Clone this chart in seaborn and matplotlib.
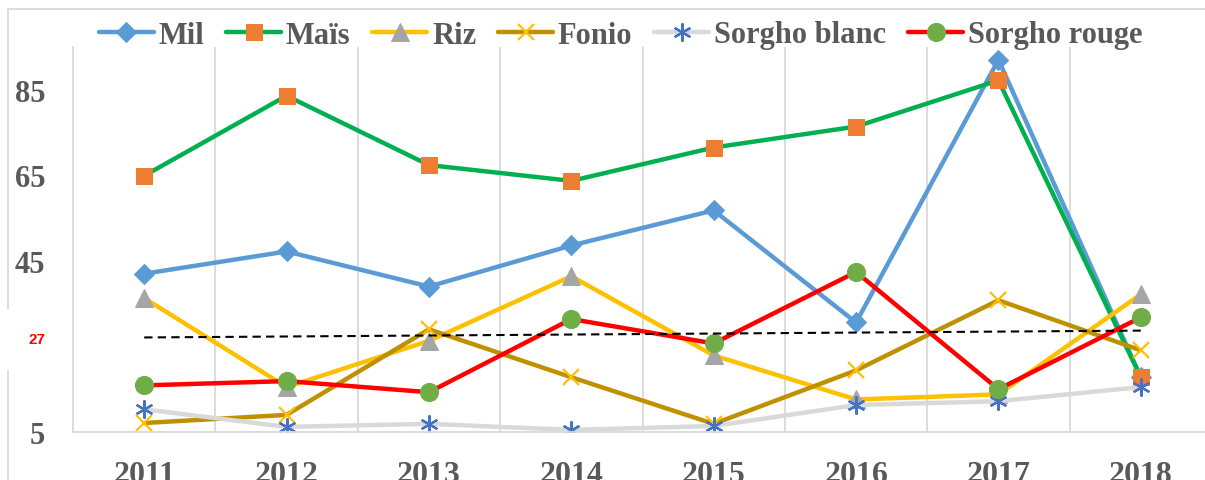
import matplotlib.pyplot as plt
import matplotlib.patches as mpatches
import seaborn as sns
import pandas as pd

annees = ["2011", "2012", "2013", "2014", "2015", "2016", "2017", "2018"]

mil = [42.0, 47.2, 39.0, 48.6, 56.8, 30.6, 92.0, 17.8]
mais = [64.9, 83.6, 67.4, 63.7, 71.5, 76.4, 87.2, 17.8]
riz = [36.3, 15.5, 26.3, 41.4, 22.9, 12.6, 13.8, 37.2]
fonio = [7.1, 9.0, 29.0, 17.8, 6.9, 19.4, 35.8, 24.1]
sorgho_blanc = [10.3, 6.2, 6.9, 5.5, 6.4, 11.3, 12.2, 15.5]
sorgho_rouge = [15.9, 16.9, 14.3, 31.4, 25.7, 42.4, 15.0, 31.8]

# tendance en pointillés (valeurs aux extrémités 2011 et 2018)
tendance = [27.1, 28.7]
valeur_repere = 27

series = {
    "Mil": mil,
    "Maïs": mais,
    "Riz": riz,
    "Fonio": fonio,
    "Sorgho blanc": sorgho_blanc,
    "Sorgho rouge": sorgho_rouge,
}

styles = {
    "Mil": dict(color="#5B9BD5", marker="D", ms=10, mfc="#5B9BD5", mec="#5B9BD5"),
    "Maïs": dict(color="#00B050", marker="s", ms=12, mfc="#ED7D31", mec="#ED7D31"),
    "Riz": dict(color="#FFC000", marker="^", ms=13, mfc="#A5A5A5", mec="#A5A5A5"),
    "Fonio": dict(color="#BF9000", marker="x", ms=12, mfc="#FFC000", mec="#FFC000", mew=1.6),
    "Sorgho blanc": dict(color="#D9D9D9", marker=(6, 2, 0), ms=13, mfc="#4472C4", mec="#4472C4", mew=1.6),
    "Sorgho rouge": dict(color="#FF0000", marker="o", ms=13, mfc="#70AD47", mec="#70AD47"),
}

sns.set_style("white")
plt.rcParams["font.family"] = ["Liberation Serif", "DejaVu Serif"]

fig = plt.figure(figsize=(12.05, 4.81), dpi=100)
ax = fig.add_axes([73 / 1205, 1 - 433 / 481, 1139 / 1205, 385 / 481])

x = list(range(len(annees)))
for nom, vals in series.items():
    df = pd.DataFrame({"x": x, "valeur": vals})
    sns.lineplot(data=df, x="x", y="valeur", ax=ax, label=nom, lw=3.2,
                 **styles[nom])

df_t = pd.DataFrame({"x": [x[0], x[-1]], "valeur": tendance})
sns.lineplot(data=df_t, x="x", y="valeur", ax=ax, color="black", lw=1.5,
             linestyle=(0, (4, 2.5)), label="_nolegend_")

ax.set_xlim(-0.5, 7.5)
ax.set_ylim(5, 95)
ax.set_xticks(x)
ax.set_xticklabels(annees)
ax.set_xticks([i + 0.5 for i in x[:-1]], minor=True)
ax.grid(False)
ax.grid(True, which="minor", axis="x", color="#D9D9D9", lw=1.3)
ax.set_yticks([5, valeur_repere, 45, 65, 85])
ax.set_xlabel("")
ax.set_ylabel("")

ax.tick_params(axis="both", which="both", length=0)
ax.tick_params(axis="y", pad=20, labelsize=22, labelcolor="#595959")
ax.tick_params(axis="x", pad=20, labelsize=23, labelcolor="#595959")
for lab in ax.get_xticklabels() + ax.get_yticklabels():
    lab.set_fontweight("bold")
for lab in ax.get_yticklabels():
    if lab.get_text() == str(valeur_repere):
        lab.set_color("red")
        lab.set_fontsize(11)
        lab.set_family("Liberation Sans")
        lab.set_bbox(dict(facecolor="white", edgecolor="none", pad=17))

for s in ["top", "right"]:
    ax.spines[s].set_visible(False)
for s in ["left", "bottom"]:
    ax.spines[s].set_color("#D9D9D9")
    ax.spines[s].set_linewidth(1.3)

handles, labels = ax.get_legend_handles_labels()
ax.get_legend().remove()
fig.legend(handles, labels, loc="center", bbox_to_anchor=(0.515, 1 - 36 / 481),
           ncol=6, frameon=False, handlelength=1.8, handletextpad=0.15,
           columnspacing=0.72, prop=dict(family="Liberation Serif", weight="bold", size=22),
           labelcolor="#595959")

fig.patches.append(mpatches.Rectangle((8 / 1205, -0.1), 1.2, 1.1 - 10 / 481,
                                      transform=fig.transFigure, fill=False,
                                      edgecolor="#D9D9D9", lw=1.3, zorder=-5))

fig.savefig("out.png", dpi=100)
plt.close(fig)
